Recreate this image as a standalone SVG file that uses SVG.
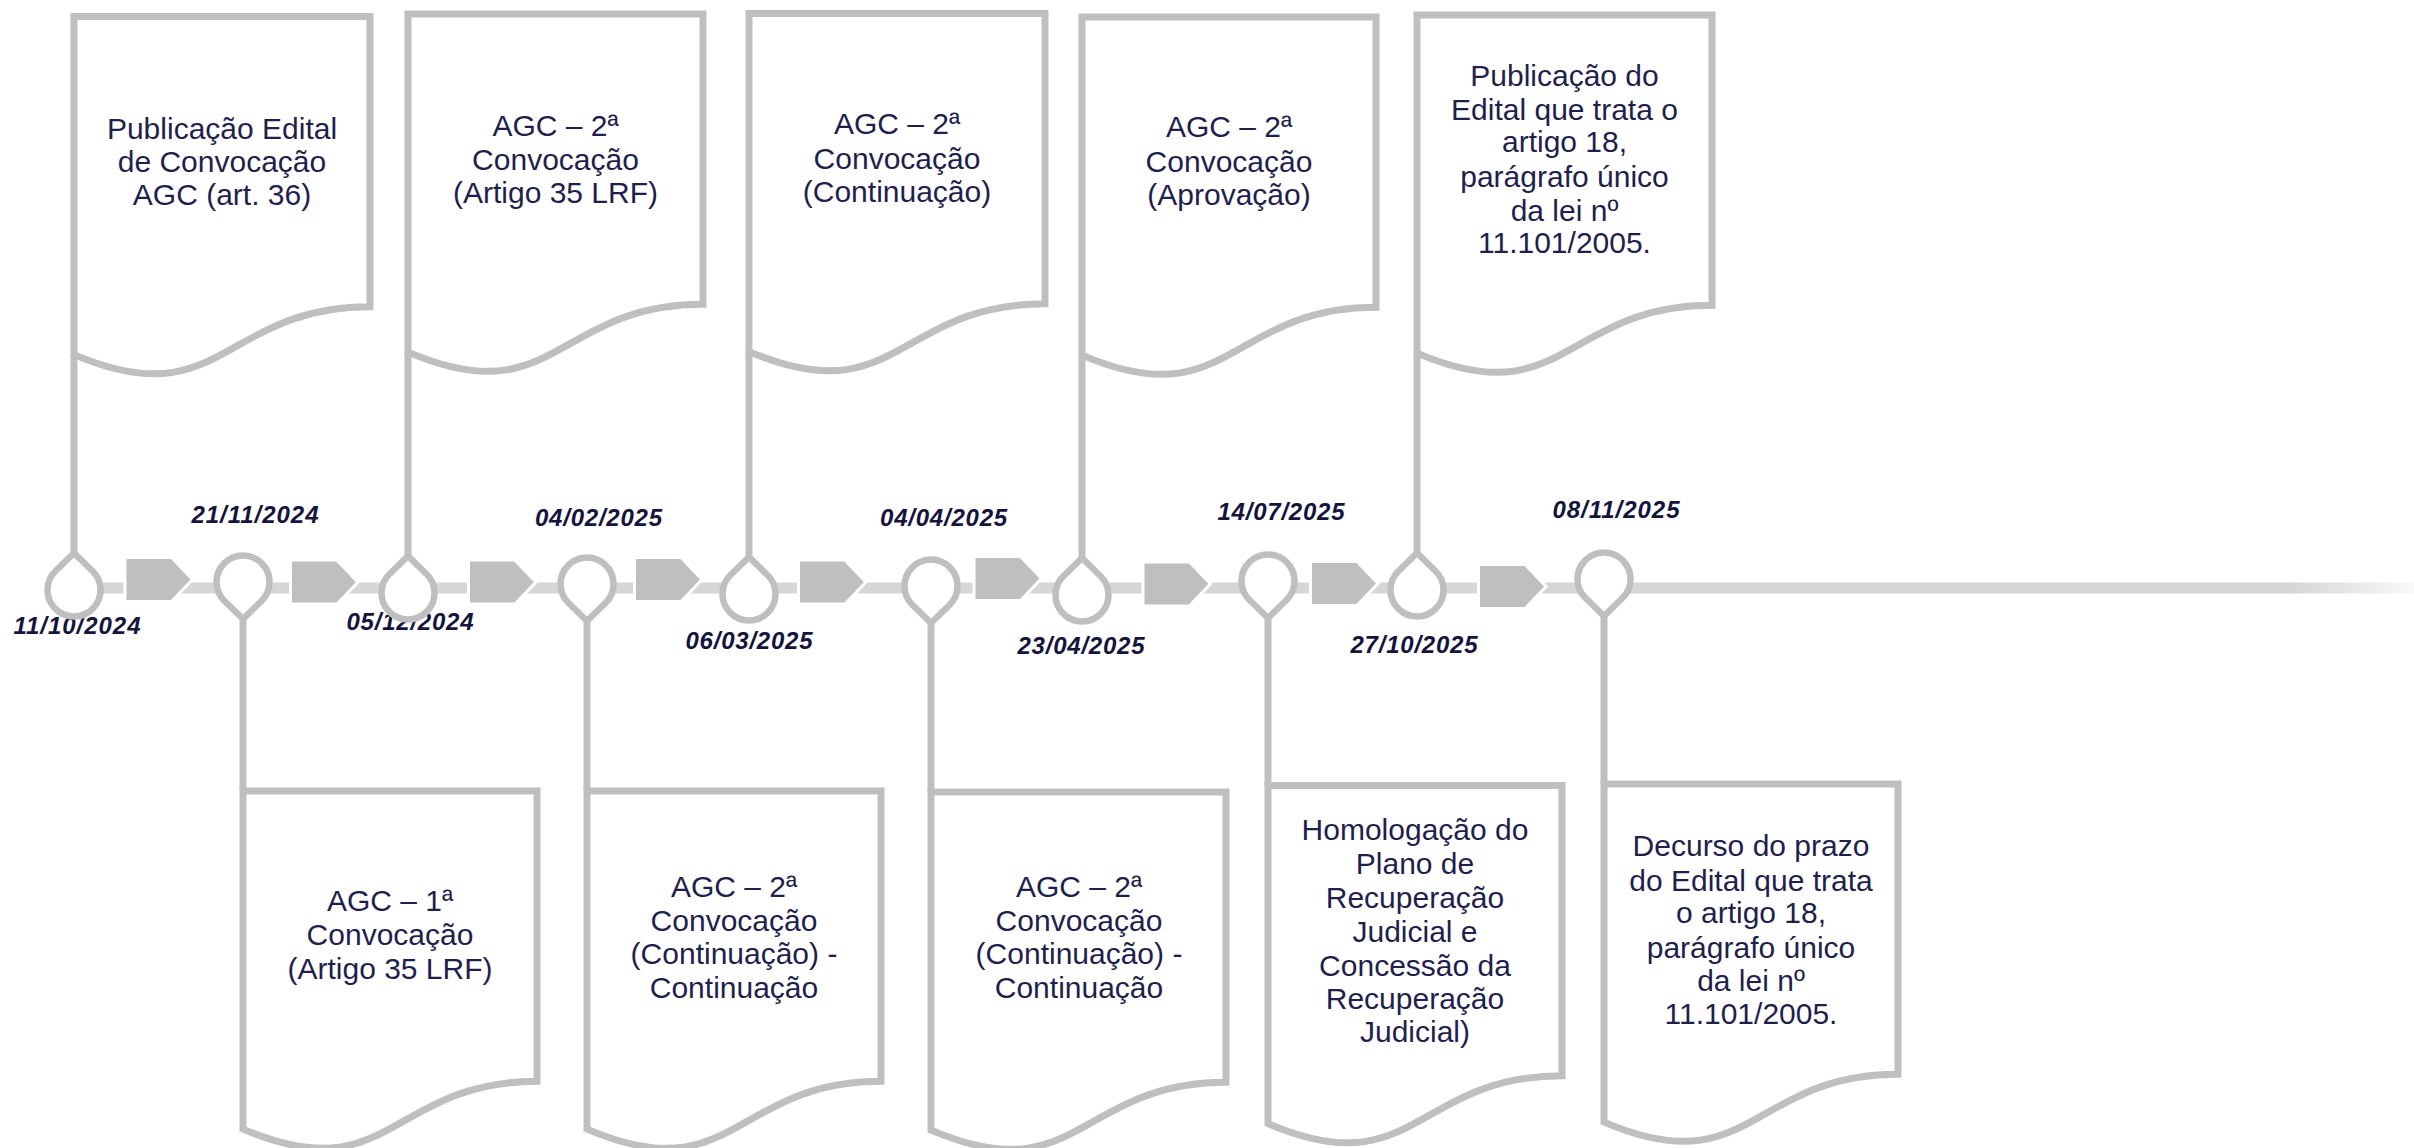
<svg xmlns="http://www.w3.org/2000/svg" xmlns:xlink="http://www.w3.org/1999/xlink" width="2414" height="1148" viewBox="0 0 2414 1148">
<style>
.box{fill:#ffffff;stroke:#bfbfbf;stroke-width:7;stroke-linejoin:miter}
.conn{stroke:#bfbfbf;stroke-width:7;fill:none}
.pin{fill:#ffffff;stroke:#bfbfbf;stroke-width:6.5;stroke-linejoin:miter}
.chev{fill:#bfbfbf;stroke:#ffffff;stroke-width:3}
.lbl{font-family:"Liberation Sans",Arial,sans-serif;font-size:30px;fill:#1f1f4d;text-anchor:middle}
.date{font-family:"Liberation Sans",Arial,sans-serif;font-size:24px;font-weight:bold;font-style:italic;fill:#14143c;text-anchor:middle}
</style>
<defs>
<linearGradient id="lineGrad" gradientUnits="userSpaceOnUse" x1="74" y1="0" x2="2414" y2="0">
<stop offset="0" stop-color="#d6d6d6"/>
<stop offset="0.947" stop-color="#d6d6d6"/>
<stop offset="1" stop-color="#d6d6d6" stop-opacity="0.15"/>
</linearGradient>
<path id="pinUp" d="M0,0 L18.5,18 A26.5,26.5 0 1 1 -18.5,18 Z"/>
<path id="pinDown" d="M0,0 L18.5,-18 A26.5,26.5 0 1 0 -18.5,-18 Z"/>
<path id="chevShape" d="M-1.5,-1.5 H45 L66,20.5 L45,42.5 H-1.5 Z"/>
</defs>
<rect width="2414" height="1148" fill="#ffffff"/>

<g id="connectors">
<rect x="74" y="582.5" width="2340" height="11" fill="url(#lineGrad)"/>
<use xlink:href="#chevShape" class="chev" transform="translate(126.5,559)"/>
<use xlink:href="#chevShape" class="chev" transform="translate(292,561.6)"/>
<use xlink:href="#chevShape" class="chev" transform="translate(470,561.6)"/>
<use xlink:href="#chevShape" class="chev" transform="translate(636,559)"/>
<use xlink:href="#chevShape" class="chev" transform="translate(800,561.6)"/>
<use xlink:href="#chevShape" class="chev" transform="translate(975.5,558)"/>
<use xlink:href="#chevShape" class="chev" transform="translate(1144.5,563.4)"/>
<use xlink:href="#chevShape" class="chev" transform="translate(1312,563)"/>
<use xlink:href="#chevShape" class="chev" transform="translate(1480,566)"/>
<line class="conn" x1="74" y1="354" x2="74" y2="553"/>
<line class="conn" x1="408" y1="352" x2="408" y2="556"/>
<line class="conn" x1="749" y1="351" x2="749" y2="557"/>
<line class="conn" x1="1082" y1="355" x2="1082" y2="558"/>
<line class="conn" x1="1417" y1="353" x2="1417" y2="553"/>
<line class="conn" x1="243" y1="618" x2="243" y2="791"/>
<line class="conn" x1="587" y1="620" x2="587" y2="791"/>
<line class="conn" x1="931" y1="623" x2="931" y2="792"/>
<line class="conn" x1="1268" y1="618" x2="1268" y2="785.5"/>
<line class="conn" x1="1604" y1="615" x2="1604" y2="784"/>
</g>

<g id="dates">
<text class="date" x="77" y="634" textLength="127" lengthAdjust="spacing">11/10/2024</text>
<text class="date" x="255" y="523" textLength="127" lengthAdjust="spacing">21/11/2024</text>
<text class="date" x="410" y="630" textLength="127" lengthAdjust="spacing">05/12/2024</text>
<text class="date" x="598.5" y="526" textLength="127" lengthAdjust="spacing">04/02/2025</text>
<text class="date" x="749" y="649" textLength="127" lengthAdjust="spacing">06/03/2025</text>
<text class="date" x="943.6" y="526" textLength="127" lengthAdjust="spacing">04/04/2025</text>
<text class="date" x="1081" y="654" textLength="127" lengthAdjust="spacing">23/04/2025</text>
<text class="date" x="1281" y="520" textLength="127" lengthAdjust="spacing">14/07/2025</text>
<text class="date" x="1414" y="653" textLength="127" lengthAdjust="spacing">27/10/2025</text>
<text class="date" x="1616" y="518" textLength="127" lengthAdjust="spacing">08/11/2025</text>
</g>

<g id="pins">
<use xlink:href="#pinUp" class="pin" transform="translate(74,553)"/>
<use xlink:href="#pinDown" class="pin" transform="translate(243,619)"/>
<use xlink:href="#pinUp" class="pin" transform="translate(408,556)"/>
<use xlink:href="#pinDown" class="pin" transform="translate(587,621)"/>
<use xlink:href="#pinUp" class="pin" transform="translate(749,557)"/>
<use xlink:href="#pinDown" class="pin" transform="translate(931,623)"/>
<use xlink:href="#pinUp" class="pin" transform="translate(1082,558)"/>
<use xlink:href="#pinDown" class="pin" transform="translate(1268,618)"/>
<use xlink:href="#pinUp" class="pin" transform="translate(1417,553)"/>
<use xlink:href="#pinDown" class="pin" transform="translate(1604,616)"/>
</g>

<g id="node-t1">
<path class="box" d="M74,354.6 L74,16.5 L370,16.5 L370,306.8 C222,306.8 222,417.4 74,354.6 Z"/>
<text class="lbl" x="222"><tspan x="222" y="139">Publicação Edital</tspan><tspan x="222" y="172">de Convocação</tspan><tspan x="222" y="205">AGC (art. 36)</tspan></text>
</g>
<g id="node-b1">
<path class="box" d="M243,1129.1 L243,791 L537,791 L537,1081.3 C390,1081.3 390,1191.9 243,1129.1 Z"/>
<text class="lbl" x="390"><tspan x="390" y="911">AGC – 1ª</tspan><tspan x="390" y="945">Convocação</tspan><tspan x="390" y="979">(Artigo 35 LRF)</tspan></text>
</g>
<g id="node-t2">
<path class="box" d="M408,352.1 L408,14 L703,14 L703,304.3 C555.5,304.3 555.5,414.9 408,352.1 Z"/>
<text class="lbl" x="555.5"><tspan x="555.5" y="136">AGC – 2ª</tspan><tspan x="555.5" y="170">Convocação</tspan><tspan x="555.5" y="203">(Artigo 35 LRF)</tspan></text>
</g>
<g id="node-b2">
<path class="box" d="M587,1129.1 L587,791 L881,791 L881,1081.3 C734,1081.3 734,1191.9 587,1129.1 Z"/>
<text class="lbl" x="734"><tspan x="734" y="897">AGC – 2ª</tspan><tspan x="734" y="931">Convocação</tspan><tspan x="734" y="964">(Continuação) -</tspan><tspan x="734" y="998">Continuação</tspan></text>
</g>
<g id="node-t3">
<path class="box" d="M749,351.6 L749,13.5 L1045,13.5 L1045,303.8 C897,303.8 897,414.4 749,351.6 Z"/>
<text class="lbl" x="897"><tspan x="897" y="134">AGC – 2ª</tspan><tspan x="897" y="169">Convocação</tspan><tspan x="897" y="202">(Continuação)</tspan></text>
</g>
<g id="node-b3">
<path class="box" d="M931,1130.1 L931,792 L1226,792 L1226,1082.3 C1078.5,1082.3 1078.5,1192.9 931,1130.1 Z"/>
<text class="lbl" x="1079"><tspan x="1079" y="897">AGC – 2ª</tspan><tspan x="1079" y="931">Convocação</tspan><tspan x="1079" y="964">(Continuação) -</tspan><tspan x="1079" y="998">Continuação</tspan></text>
</g>
<g id="node-t4">
<path class="box" d="M1082,355.1 L1082,17 L1376,17 L1376,307.3 C1229,307.3 1229,417.9 1082,355.1 Z"/>
<text class="lbl" x="1229"><tspan x="1229" y="137">AGC – 2ª</tspan><tspan x="1229" y="172">Convocação</tspan><tspan x="1229" y="205">(Aprovação)</tspan></text>
</g>
<g id="node-b4">
<path class="box" d="M1268,1123.6 L1268,785.5 L1562,785.5 L1562,1075.8 C1415,1075.8 1415,1186.4 1268,1123.6 Z"/>
<text class="lbl" x="1415"><tspan x="1415" y="840">Homologação do</tspan><tspan x="1415" y="874">Plano de</tspan><tspan x="1415" y="908">Recuperação</tspan><tspan x="1415" y="942">Judicial e</tspan><tspan x="1415" y="976">Concessão da</tspan><tspan x="1415" y="1009">Recuperação</tspan><tspan x="1415" y="1042">Judicial)</tspan></text>
</g>
<g id="node-t5">
<path class="box" d="M1417,353.1 L1417,15 L1712,15 L1712,305.3 C1564.5,305.3 1564.5,415.9 1417,353.1 Z"/>
<text class="lbl" x="1564.5"><tspan x="1564.5" y="86">Publicação do</tspan><tspan x="1564.5" y="120">Edital que trata o</tspan><tspan x="1564.5" y="152">artigo 18,</tspan><tspan x="1564.5" y="187">parágrafo único</tspan><tspan x="1564.5" y="221">da lei nº</tspan><tspan x="1564.5" y="253">11.101/2005.</tspan></text>
</g>
<g id="node-b5">
<path class="box" d="M1604,1122.1 L1604,784 L1898,784 L1898,1074.3 C1751,1074.3 1751,1184.9 1604,1122.1 Z"/>
<text class="lbl" x="1751"><tspan x="1751" y="856">Decurso do prazo</tspan><tspan x="1751" y="891">do Edital que trata</tspan><tspan x="1751" y="923">o artigo 18,</tspan><tspan x="1751" y="958">parágrafo único</tspan><tspan x="1751" y="991">da lei nº</tspan><tspan x="1751" y="1024">11.101/2005.</tspan></text>
</g>
</svg>
